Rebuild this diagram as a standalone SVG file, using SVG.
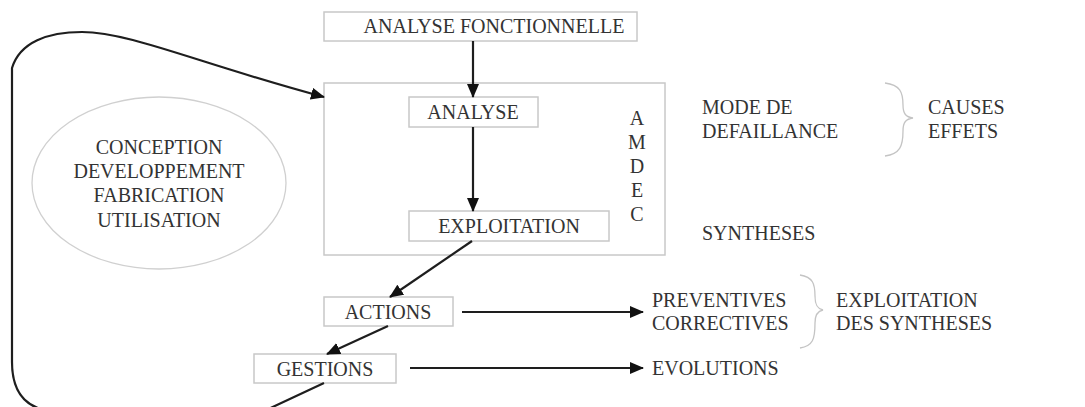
<svg xmlns="http://www.w3.org/2000/svg" width="1085" height="407" viewBox="0 0 1085 407">
  <style>
    .box { fill: #fff; stroke: #c8c8c8; stroke-width: 1.5; }
    .lbl { font-family: "Liberation Serif", "Times New Roman", serif; font-size: 20px; fill: #333; }
    .mid { text-anchor: middle; }
    .conn { fill: none; stroke: #1e1e1e; stroke-width: 2.2; }
    .brace { fill: none; stroke: #c4c4c4; stroke-width: 1.3; }
  </style>
  <defs>
    <marker id="arrow" markerUnits="userSpaceOnUse" markerWidth="14" markerHeight="12" refX="13" refY="6" orient="auto">
      <path d="M0,0 L14,6 L0,12 Z" fill="#111"/>
    </marker>
  </defs>

  <rect width="1085" height="407" fill="#fff"/>

  <!-- AMDEC frame -->
  <g id="amdec">
    <rect class="box" x="324" y="83" width="341" height="172"/>
    <text class="lbl mid" x="637" y="125">A</text>
    <text class="lbl mid" x="637" y="149">M</text>
    <text class="lbl mid" x="637" y="173">D</text>
    <text class="lbl mid" x="637" y="197">E</text>
    <text class="lbl mid" x="637" y="221">C</text>
  </g>

  <g id="analyse-fonctionnelle">
    <rect class="box" x="324" y="12" width="313" height="29"/>
    <text class="lbl mid" x="494" y="33">ANALYSE FONCTIONNELLE</text>
  </g>

  <g id="analyse">
    <rect class="box" x="409" y="97" width="129" height="30"/>
    <text class="lbl mid" x="473" y="119">ANALYSE</text>
  </g>

  <g id="exploitation">
    <rect class="box" x="409" y="211" width="200" height="30"/>
    <text class="lbl mid" x="509" y="233">EXPLOITATION</text>
  </g>

  <g id="actions">
    <rect class="box" x="324" y="297" width="129" height="29"/>
    <text class="lbl mid" x="388" y="319">ACTIONS</text>
  </g>

  <g id="gestions">
    <rect class="box" x="254" y="354" width="142" height="29"/>
    <text class="lbl mid" x="325" y="376">GESTIONS</text>
  </g>

  <g id="cycle">
    <ellipse cx="159" cy="183" rx="127" ry="86" fill="none" stroke="#d0d0d0" stroke-width="1.3"/>
    <text class="lbl mid" x="159" y="154">CONCEPTION</text>
    <text class="lbl mid" x="159" y="178">DEVELOPPEMENT</text>
    <text class="lbl mid" x="159" y="202">FABRICATION</text>
    <text class="lbl mid" x="159" y="227">UTILISATION</text>
  </g>

  <g id="defaillance">
    <text class="lbl" x="702" y="114">MODE DE</text>
    <text class="lbl" x="702" y="138">DEFAILLANCE</text>
    <path class="brace" d="M885,83 C900,85 903,92 903,105 C903,114 906,117 913,118 C906,119 903,122 903,131 C903,146 900,154 885,156"/>
    <text class="lbl" x="928" y="114">CAUSES</text>
    <text class="lbl" x="928" y="138">EFFETS</text>
  </g>

  <g id="syntheses">
    <text class="lbl" x="702" y="240">SYNTHESES</text>
  </g>

  <g id="suites">
    <text class="lbl" x="652" y="307">PREVENTIVES</text>
    <text class="lbl" x="652" y="330">CORRECTIVES</text>
    <path class="brace" d="M800,275 C813,277 815,284 815,296 C815,306 818,309 823,310 C818,311 815,314 815,323 C815,339 813,346 800,348"/>
    <text class="lbl" x="836" y="307">EXPLOITATION</text>
    <text class="lbl" x="836" y="330">DES SYNTHESES</text>
  </g>

  <g id="evolutions">
    <text class="lbl" x="652" y="375">EVOLUTIONS</text>
  </g>

  <!-- connectors -->
  <g id="connectors">
    <path class="conn" d="M473,41 L473,97" marker-end="url(#arrow)"/>
    <path class="conn" d="M473,127 L473,211" marker-end="url(#arrow)"/>
    <path class="conn" d="M472,241 L390,297" marker-end="url(#arrow)"/>
    <path class="conn" d="M388,326 L327,354" marker-end="url(#arrow)"/>
    <path class="conn" d="M462,312 L643,312" marker-end="url(#arrow)"/>
    <path class="conn" d="M410,368 L643,368" marker-end="url(#arrow)"/>
    <!-- feedback loop from GESTIONS back to the AMDEC frame -->
    <path class="conn" stroke-width="2.5" d="M324,383 L262,412 L62,412 Q12,412 12,362 L12,68 C20,42 48,32 82,32 C130,32 200,64 324,97" marker-end="url(#arrow)"/>
  </g>
</svg>
